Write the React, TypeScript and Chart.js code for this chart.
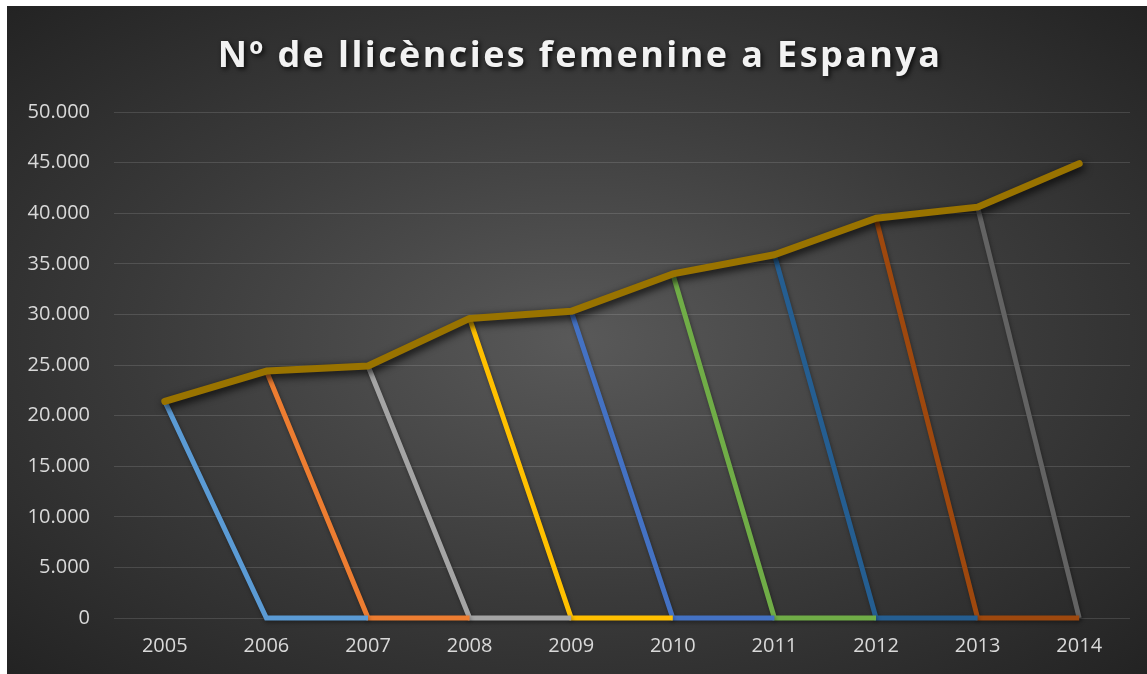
import React, { useEffect, useRef } from "react";
import { Chart, registerables } from "chart.js";

Chart.register(...registerables);

const TITLE = "Nº de llicències femenine a Espanya";
const YEARS = ["2005", "2006", "2007", "2008", "2009", "2010", "2011", "2012", "2013", "2014"];
const TOTAL = [21400, 24400, 24900, 29600, 30300, 34000, 35900, 39500, 40600, 44900];
const Y_MIN = 0;
const Y_MAX = 50000;
const Y_STEP = 5000;
const MAIN_COLOR = "#997300";
const DROP_COLORS = ["#5B9BD5", "#ED7D31", "#A5A5A5", "#FFC000", "#4472C4", "#70AD47", "#255E91", "#9E480E", "#636363"];

const FONT = "'Open Sans', 'DejaVu Sans', sans-serif";

function fmt(v: number): string {
  return Math.round(v).toString().replace(/\B(?=(\d{3})+(?!\d))/g, ".");
}

function dropSeries(i: number): (number | null)[] {
  return YEARS.map((_, j) => (j === i ? TOTAL[i] : j === i + 1 || j === i + 2 ? 0 : null));
}

const shadowPlugin = {
  id: "lineShadow",
  beforeDatasetDraw(chart: any, args: any) {
    const ctx = chart.ctx;
    ctx.save();
    if (args.index === 0) {
      ctx.shadowColor = "rgba(0,0,0,0.9)";
      ctx.shadowBlur = 8;
      ctx.shadowOffsetX = 2;
      ctx.shadowOffsetY = 3;
    } else {
      ctx.shadowColor = "rgba(0,0,0,0.4)";
      ctx.shadowBlur = 4;
      ctx.shadowOffsetX = 1;
      ctx.shadowOffsetY = 2;
    }
  },
  afterDatasetDraw(chart: any) {
    chart.ctx.restore();
  },
};

const titlePlugin = {
  id: "customTitle",
  afterDraw(chart: any) {
    const ctx = chart.ctx;
    ctx.save();
    ctx.font = `bold 36px ${FONT}`;
    (ctx as any).letterSpacing = "2.4px";
    ctx.fillStyle = "#F2F2F2";
    ctx.textAlign = "center";
    ctx.textBaseline = "middle";
    ctx.shadowColor = "rgba(0,0,0,0.8)";
    ctx.shadowBlur = 5;
    ctx.shadowOffsetX = 2;
    ctx.shadowOffsetY = 2;
    ctx.fillText(TITLE, chart.width / 2 + 3, 51);
    ctx.restore();
  },
};

export default function App() {
  const ref = useRef<HTMLCanvasElement>(null);
  useEffect(() => {
    if (!ref.current) return;
    const datasets: any[] = [
      {
        label: "Total",
        data: TOTAL,
        borderColor: MAIN_COLOR,
        backgroundColor: MAIN_COLOR,
        borderWidth: 7,
        borderCapStyle: "round",
        borderJoinStyle: "round",
        pointRadius: 0,
        tension: 0,
        clip: 12,
      },
      ...DROP_COLORS.map((c, i) => ({
        label: YEARS[i],
        data: dropSeries(i),
        borderColor: c,
        backgroundColor: c,
        borderWidth: 5,
        borderJoinStyle: "miter",
        pointRadius: 0,
        spanGaps: false,
        tension: 0,
        clip: 12,
      })),
    ];
    const chart = new Chart(ref.current, {
      type: "line",
      data: { labels: YEARS, datasets },
      plugins: [shadowPlugin, titlePlugin],
      options: {
        animation: false,
        responsive: true,
        maintainAspectRatio: false,
        layout: { padding: { top: 106, right: 17, bottom: 0, left: 0 } },
        plugins: {
          legend: { display: false },
          title: { display: false },
          tooltip: { enabled: false },
        },
        scales: {
          x: {
            offset: true,
            grid: { display: false, drawTicks: false },
            border: { display: false },
            ticks: { color: "#D9D9D9", font: { family: FONT, size: 20 }, padding: 16 },
            afterFit(scale: any) {
              scale.height = 56;
            },
          },
          y: {
            min: Y_MIN,
            max: Y_MAX,
            grid: { color: "rgba(255,255,255,0.13)", lineWidth: 1, drawTicks: false },
            border: { display: false },
            ticks: {
              stepSize: Y_STEP,
              color: "#D9D9D9",
              font: { family: FONT, size: 20 },
              padding: 24,
              callback: (v: any) => fmt(Number(v)),
            },
            afterFit(scale: any) {
              scale.width = 107;
            },
          },
        },
      },
    });
    return () => chart.destroy();
  }, []);
  return (
    <div
      style={{
        position: "absolute",
        left: 7,
        top: 6,
        width: 1140,
        height: 668,
        background: "radial-gradient(ellipse at 50% 50%, #595959 0%, #3a3a3a 55%, #232323 100%)",
      }}
    >
      <canvas ref={ref} />
    </div>
  );
}
